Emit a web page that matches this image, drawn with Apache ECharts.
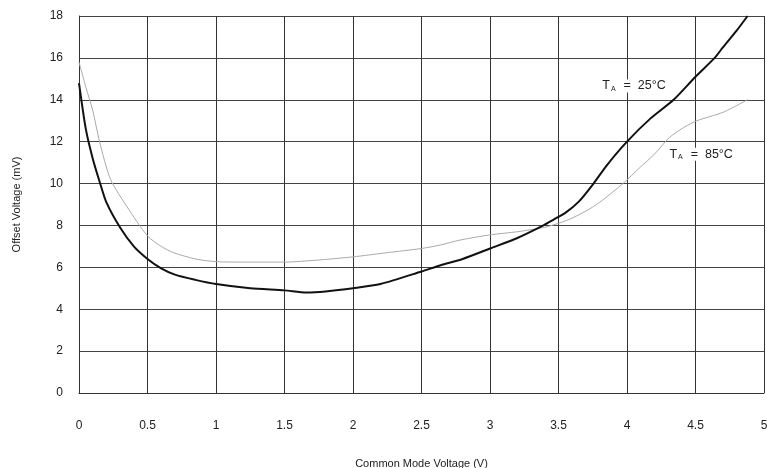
<!DOCTYPE html>
<html>
<head>
<meta charset="utf-8">
<script src="https://cdn.jsdelivr.net/npm/echarts@6/dist/echarts.min.js"></script>
<style>
  html, body { margin: 0; padding: 0; background: #fff; }
  #chart { width: 767px; height: 468px; }
</style>
</head>
<body>
<div id="chart"></div>
<script>
// common mode voltage (V) vs offset voltage (mV)
const ta25 = [
  [0, 14.8], [0.05, 12.6], [0.1, 11.2], [0.15, 10.1], [0.2, 9.1], [0.3, 7.9],
  [0.4, 7.0], [0.5, 6.4], [0.6, 5.95], [0.7, 5.65], [0.85, 5.4], [1.0, 5.2],
  [1.25, 5.0], [1.5, 4.9], [1.66, 4.8], [1.8, 4.85], [2.0, 5.0], [2.2, 5.2],
  [2.5, 5.8], [2.64, 6.1], [2.8, 6.4], [3.0, 6.9], [3.2, 7.4], [3.39, 8.0],
  [3.47, 8.3], [3.55, 8.6], [3.65, 9.15], [3.75, 9.95], [3.85, 10.85],
  [4.0, 12.0], [4.17, 13.1], [4.34, 14.0], [4.5, 15.1], [4.64, 16.0],
  [4.7, 16.5], [4.8, 17.3], [4.88, 18.0]
]
const ta85 = [
  [0, 15.8], [0.05, 14.6], [0.1, 13.5], [0.15, 12.0], [0.23, 10.2], [0.35, 8.9],
  [0.5, 7.5], [0.6, 7.0], [0.69, 6.7], [0.85, 6.4], [1.0, 6.27], [1.25, 6.25],
  [1.5, 6.25], [1.75, 6.35], [2.0, 6.5], [2.25, 6.7], [2.5, 6.9], [2.64, 7.07],
  [2.78, 7.3], [3.0, 7.55], [3.2, 7.7], [3.39, 7.9], [3.5, 8.1], [3.6, 8.35],
  [3.73, 8.8], [3.82, 9.2], [3.97, 10.0], [4.1, 10.8], [4.2, 11.4], [4.31, 12.2],
  [4.42, 12.7], [4.51, 13.0], [4.7, 13.4], [4.88, 14.0]
]
const xTicks = [0, 0.5, 1, 1.5, 2, 2.5, 3, 3.5, 4, 4.5, 5]
const yTicks = [0, 2, 4, 6, 8, 10, 12, 14, 16, 18]
const label25 = { x: 3.82, y: 14.66, temp: '25' }
const label85 = { x: 4.31, y: 11.4, temp: '85' }

const font = 'Liberation Sans, Arial, sans-serif'

function tempLabel(l) {
  return {
    coord: [l.x, l.y],
    symbol: 'circle',
    symbolSize: 0,
    label: {
      show: true,
      position: 'right',
      distance: 0,
      formatter: '{t|T}{s|A}{t|  =  ' + l.temp + '°C}',
      rich: {
        t: { fontSize: 12.5, color: '#222', fontFamily: font },
        s: { fontSize: 7, color: '#222', fontFamily: font, verticalAlign: 'bottom', padding: [6, 1, 0, 1] }
      },
      backgroundColor: '#fff'
    }
  }
}

const chart = echarts.init(document.getElementById('chart'))
chart.setOption({
  animation: false,
  backgroundColor: '#fff',
  grid: { left: 79, right: 3, top: 16, bottom: 75, containLabel: false, outerBoundsMode: 'none' },
  xAxis: {
    type: 'value',
    min: xTicks[0],
    max: xTicks[xTicks.length - 1],
    interval: 0.5,
    name: 'Common Mode Voltage (V)',
    nameLocation: 'middle',
    nameGap: 65,
    nameTextStyle: { fontSize: 11, color: '#222', fontFamily: font },
    axisLine: { show: true, lineStyle: { color: '#333', width: 1 } },
    axisTick: { show: false },
    axisLabel: { fontSize: 12, color: '#222', fontFamily: font, margin: 27, formatter: v => String(v) },
    splitLine: { show: true, lineStyle: { color: '#333', width: 1 } }
  },
  yAxis: {
    type: 'value',
    min: yTicks[0],
    max: yTicks[yTicks.length - 1],
    interval: 2,
    name: 'Offset Voltage (mV)',
    nameLocation: 'middle',
    nameGap: 57,
    nameTextStyle: { fontSize: 11, color: '#222', fontFamily: font },
    axisLine: { show: true, lineStyle: { color: '#333', width: 1 } },
    axisTick: { show: false },
    axisLabel: { fontSize: 12, color: '#222', fontFamily: font, margin: 16 },
    splitLine: { show: true, lineStyle: { color: '#444', width: 1.2 } }
  },
  series: [
    {
      name: 'TA = 85°C',
      type: 'line',
      data: ta85,
      smooth: 0.25,
      showSymbol: false,
      lineStyle: { color: '#aaa', width: 1 },
      markPoint: { silent: true, data: [tempLabel(label85)] },
      z: 3
    },
    {
      name: 'TA = 25°C',
      type: 'line',
      data: ta25,
      smooth: 0.25,
      showSymbol: false,
      lineStyle: { color: '#111', width: 2 },
      markPoint: { silent: true, data: [tempLabel(label25)] },
      z: 4
    }
  ]
})
</script>
</body>
</html>
